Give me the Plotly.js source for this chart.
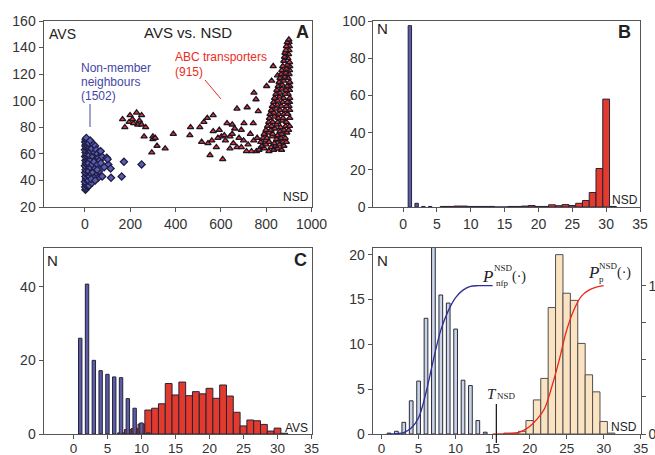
<!DOCTYPE html>
<html><head><meta charset="utf-8">
<script src="https://cdn.plot.ly/plotly-3.0.1.min.js"></script>
<style>html,body{margin:0;padding:0;background:#fff}#chart{width:655px;height:455px}</style>
</head><body><div id="chart"></div>
<script>
// ---------- Panel A: AVS vs NSD scatter ----------
const nonNSD = [2,6,1,9,3,7,0,10,4,8,2,12,5,1,9,3,11,6,0,8,4,10,2,7,13,1,5,9,3,11,0,6,8,2,4,10,1,5,3,6,
 18,15,20,17,22,16,24,19,25,21,17,23,
 30,28,32,35,30,38,45,42,50,55,48,40,35,45,55,60,65,70,52,62,58,75,68,76,54,69,96,103,113,100,115,162,172,250,85,40,28,45];
const nonAVS = [33,34,35,36,37,38,39,40,41,42,43,44,45,46,47,48,49,50,51,52,53,54,55,56,57,58,59,60,61,62,63,64,65,66,67,68,69,70,71,72,
 36,40,43,47,50,53,56,59,62,65,68,70,
 38,45,52,58,64,67,66,61,63,60,56,54,46,49,52,57,55,53,44,47,42,58,62,43,48,62,57,52,49,56,42,43,54,52,50,42,41,40];

const abcNSD = [166,176,199,210,228,250,233,250,268,261,300,295,318,300,354,390,466,463,507,525,566,540,515,543,552,608,602,593,566,627,661,671,716,746,755,765,702,743,640,655,671,690,713,640,587,757,780,802,824,831,850,846,195,215,240,310,560,580,620,650,680,700,720,730,745,760,735,690,615,650,
 768,792,812,833,851,868,
 781,799,822,841,858,878,
 776,797,813,836,853,874,889,
 786,803,826,846,866,884,
 791,812,829,851,869,891,
 799,821,838,861,879,899,
 806,824,846,864,886,903,
 811,829,851,871,889,904,
 814,836,854,874,896,
 817,834,856,877,893,904,
 823,843,861,883,901,
 827,849,867,889,903,
 833,851,873,893,904,
 837,859,877,897,
 843,861,883,903,
 847,869,887,904,
 853,871,893,904,
 857,877,897,
 861,881,901,
 866,886,903,
 869,889,904,
 873,893,903,
 878,896,
 881,899,
 883,901,
 887,902,
 889,901,
 893,900,
 897];
const abcAVS = [86,80,89,86,91,89,82,82,80,73,73,61,66,71,64,75,80,74,80,84,89,87,69,68,59,56,73,78,77,83,79,94,95,106,101,92,83,83,73,68,65,65,62,64,72,62,65,111,115,126,119,64,84,83,85,72,70,65,70,75,72,70,67,75,70,72,62,78,74,82,
 63,64,62,63,64,63,
 66,67,65,66,67,66,
 69,70,69,68,70,69,69,
 72,72,73,71,72,72,
 75,76,75,74,75,76,
 78,78,79,77,78,78,
 81,81,82,80,81,81,
 84,84,84,85,84,
 87,87,88,87,87,
 90,90,91,90,90,90,
 93,93,94,93,93,
 96,96,97,96,96,
 99,99,100,99,99,
 102,102,103,102,
 105,105,106,105,
 108,108,109,108,
 111,111,112,111,
 114,114,115,
 117,117,118,
 120,120,121,
 123,123,124,
 126,126,127,
 129,130,
 132,133,
 135,136,
 138,138,
 141,141,
 144,144,
 146];

// ---------- Panel B: NSD histogram ----------
const bNonX = [1,2,3,4];
const bNonN = [97.5,2,0.3,0.3];
const bAbcX = [6,7,8,9,10,11,12,13,14,15,16,17,18,19,20,21,22,23,24,25,26,27,28,29,30,31];
const bAbcN = [0.3,0.3,0.5,0.5,0.3,0.3,0.3,0.3,0,0,0.3,0.3,0.5,0.8,0.3,0.3,1.2,0.7,1.3,0.8,2.0,3.5,7.8,20.7,58,0.3];

// ---------- Panel C: AVS histogram ----------
const cNonX = [1,2,3,4,5,6,7,8,9,10,11];
const cNonN = [26,40.7,20,17.2,16.2,15.5,15.3,9.6,7,3,0.3];
const cAbcX = [7,8,9,10,11,12,13,14,15,16,17,18,19,20,21,22,23,24,25,26,27,28,29,30,31];
const cAbcN = [0.3,1.2,1.5,2.7,6.5,7,8.2,13.7,10.6,14.1,10.4,11.5,10.9,12.4,9.7,13.3,10.3,5.9,2.2,3.8,3.6,2.6,0.8,1.6,0.2];

// ---------- Panel D: NSD distributions + CDFs ----------
const dNfpX = [1,2,3,4,5,6,7,8,9,10,11,12,13,14];
const dNfpN = [0.1,0.3,1.3,3.7,5.9,12.9,22,15.5,14.6,11.7,6.0,5.4,1.5,0.2];
const dPX = [17,18,19,20,21,22,23,24,25,26,27,28,29,30,31];
const dPN = [0.1,0.1,0.3,1.5,3.8,6.2,14.1,20.0,15.7,14.9,10.1,6.6,4.7,1.4,0.1];
const cdfNfpX = [1,2,3,4,5,6,7,8,9,10,11,12,13,14,15];
const cdfNfpP = [0,0.003,0.01,0.04,0.11,0.28,0.5,0.7,0.83,0.92,0.97,0.995,1,1,1];
const cdfPX = [15,16,17,18,19,20,21,22,23,24,25,26,27,28,29,30];
const cdfPP = [0,0,0.002,0.006,0.02,0.05,0.1,0.17,0.32,0.5,0.7,0.84,0.93,0.97,0.99,1];
const tNSD = 15.5;

const W = 655, H = 455;
const BLUE = '#5b5ba8', RED = '#e23a2c', EDGE = '#24243a';
const FONT = 'Liberation Sans, Arial, sans-serif';
const SERIF = 'Liberation Serif, Times New Roman, serif';

const traces = [
  {type:'scatter', mode:'markers', x:abcNSD, y:abcAVS, xaxis:'x', yaxis:'y',
   marker:{symbol:'triangle-up', size:5.5, color:RED, line:{color:'#1e1626', width:1.3}}},
  {type:'scatter', mode:'markers', x:nonNSD, y:nonAVS, xaxis:'x', yaxis:'y',
   marker:{symbol:'diamond', size:5.5, color:'#5c5cb0', line:{color:'#1e1e46', width:1.3}}},

  {type:'bar', x:bAbcX, y:bAbcN, width:1, xaxis:'x2', yaxis:'y2',
   marker:{color:RED, line:{color:EDGE, width:1}}},
  {type:'bar', x:bNonX, y:bNonN, width:0.5, xaxis:'x2', yaxis:'y2',
   marker:{color:BLUE, line:{color:EDGE, width:1}}},

  {type:'bar', x:cAbcX, y:cAbcN, width:1, xaxis:'x3', yaxis:'y3',
   marker:{color:RED, line:{color:EDGE, width:1}}},
  {type:'bar', x:cNonX, y:cNonN, width:0.5, xaxis:'x3', yaxis:'y3',
   marker:{color:BLUE, line:{color:EDGE, width:1}}},

  {type:'bar', x:dNfpX, y:dNfpN, width:0.5, xaxis:'x4', yaxis:'y4',
   marker:{color:'#c9d5e6', line:{color:'#2a2a3a', width:1}}},
  {type:'bar', x:dPX, y:dPN, width:1, xaxis:'x4', yaxis:'y4',
   marker:{color:'#fbe3c2', line:{color:'#505050', width:1}}},
  {type:'scatter', mode:'lines', x:cdfNfpX, y:cdfNfpP, xaxis:'x4', yaxis:'y5',
   line:{color:'#2e2e96', width:1.3, shape:'spline'}},
  {type:'scatter', mode:'lines', x:cdfPX, y:cdfPP, xaxis:'x4', yaxis:'y5',
   line:{color:'#ee2418', width:1.3, shape:'spline'}}
];

function ax(extra){
  return Object.assign({showline:true, linecolor:'#555', linewidth:1, mirror:true,
    ticks:'outside', ticklen:4, tickcolor:'#555', showgrid:false, zeroline:false,
    tickfont:{family:FONT, size:14, color:'#333'}, fixedrange:true}, extra);
}
const dxA = [43.5/W, 311.5/W], dxB = [373.3/W, 640/W], dxD = [372.7/W, 640.7/W];
const dyTop = [1-207/H, 1-21/H], dyBot = [1-434/H, 1-248/H];

function t(text, x, y, size, color, extra){
  return Object.assign({text:text, xref:'paper', yref:'paper', x:x/W, y:1-y/H,
    xanchor:'center', yanchor:'middle', showarrow:false,
    font:{family:FONT, size:size, color:color||'#222'}}, extra||{});
}

const annotations = [
  t('AVS', 62, 34, 14),
  t('AVS vs. NSD', 188, 33, 15),
  t('<b>A</b>', 302, 32, 18),
  t('NSD', 296, 197, 12),
  t('Non-member', 79, 68, 12, '#4646a6', {xanchor:'left'}),
  t('neighbours', 79, 82, 12, '#4646a6', {xanchor:'left'}),
  t('(1502)', 79, 96, 12, '#4646a6', {xanchor:'left'}),
  t('ABC transporters', 173, 57, 12, '#ec2c22', {xanchor:'left'}),
  t('(915)', 173, 72, 12, '#ec2c22', {xanchor:'left'}),

  t('N', 382, 28, 15),
  t('<b>B</b>', 624, 32, 18),
  t('NSD', 625, 200, 12),

  t('N', 52, 260, 15),
  t('<b>C</b>', 300, 260, 18),
  t('AVS', 296, 428, 12),

  t('N', 382, 260, 15),
  t('NSD', 624, 427, 12),
  t('<i>P</i>', 487, 276, 17, '#222', {font:{family:SERIF, size:17, color:'#222'}}),
  t('NSD', 503, 268, 9, '#222', {font:{family:SERIF, size:9, color:'#222'}}),
  t('nfp', 502, 283, 9, '#222', {font:{family:SERIF, size:9, color:'#222'}}),
  t('(·)', 519, 277, 14, '#222', {font:{family:SERIF, size:14, color:'#222'}}),
  t('<i>P</i>', 593, 272, 17, '#222', {font:{family:SERIF, size:17, color:'#222'}}),
  t('NSD', 608, 266, 9, '#222', {font:{family:SERIF, size:9, color:'#222'}}),
  t('p', 601, 279, 9, '#222', {font:{family:SERIF, size:9, color:'#222'}}),
  t('(·)', 624, 273, 14, '#222', {font:{family:SERIF, size:14, color:'#222'}}),
  t('<i>T</i>', 492, 394, 15, '#222', {font:{family:SERIF, size:15, color:'#222'}}),
  t('NSD', 506, 396, 9, '#222', {font:{family:SERIF, size:9, color:'#222'}})
];

const shapes = [
  {type:'line', xref:'paper', yref:'paper', x0:90/W, x1:90/W, y0:1-104/H, y1:1-127/H, line:{color:'#4646a6', width:1}},
  {type:'line', xref:'paper', yref:'paper', x0:205/W, x1:221/W, y0:1-80/H, y1:1-99/H, line:{color:'#ec2c22', width:1}},
  {type:'line', xref:'x4', yref:'paper', x0:tNSD, x1:tNSD, y0:1-443/H, y1:1-404/H, line:{color:'#111', width:1.2}}
];

const bottomX = {ticklabelstandoff:-2, tickfont:{family:FONT, size:13.5, color:'#333'}};

const layout = {
  width:W, height:H, margin:{l:0,r:0,t:0,b:0}, paper_bgcolor:'#fff', plot_bgcolor:'#fff',
  showlegend:false, barmode:'overlay', bargap:0,
  font:{family:FONT, color:'#333'},
  xaxis: ax({domain:dxA, anchor:'y', range:[-183,1000], tickvals:[0,200,400,600,800,1000]}),
  yaxis: ax({domain:dyTop, anchor:'x', range:[20,160], tickvals:[20,40,60,80,100,120,140,160]}),
  xaxis2: ax({domain:dxB, anchor:'y2', range:[-4.4,35], tickvals:[0,5,10,15,20,25,30,35]}),
  yaxis2: ax({domain:dyTop, anchor:'x2', range:[0,100], tickvals:[0,20,40,60,80,100]}),
  xaxis3: ax(Object.assign({domain:dxA, anchor:'y3', range:[-4.4,35], tickvals:[0,5,10,15,20,25,30,35]}, bottomX)),
  yaxis3: ax({domain:dyBot, anchor:'x3', range:[0,50.5], tickvals:[0,20,40]}),
  xaxis4: ax(Object.assign({domain:dxD, anchor:'y4', range:[-1.2,35], tickvals:[0,5,10,15,20,25,30,35]}, bottomX)),
  yaxis4: ax({domain:dyBot, anchor:'x4', range:[0,20.74], tickvals:[0,5,10,15,20]}),
  yaxis5: ax({overlaying:'y4', anchor:'x4', side:'right', mirror:false, range:[0,1.254],
    tickvals:[0,0.25,0.5,0.75,1], ticktext:['0','','','','1']}),
  annotations: annotations,
  shapes: shapes
};

Plotly.newPlot('chart', traces, layout, {staticPlot:true, displayModeBar:false});
</script></body></html>
